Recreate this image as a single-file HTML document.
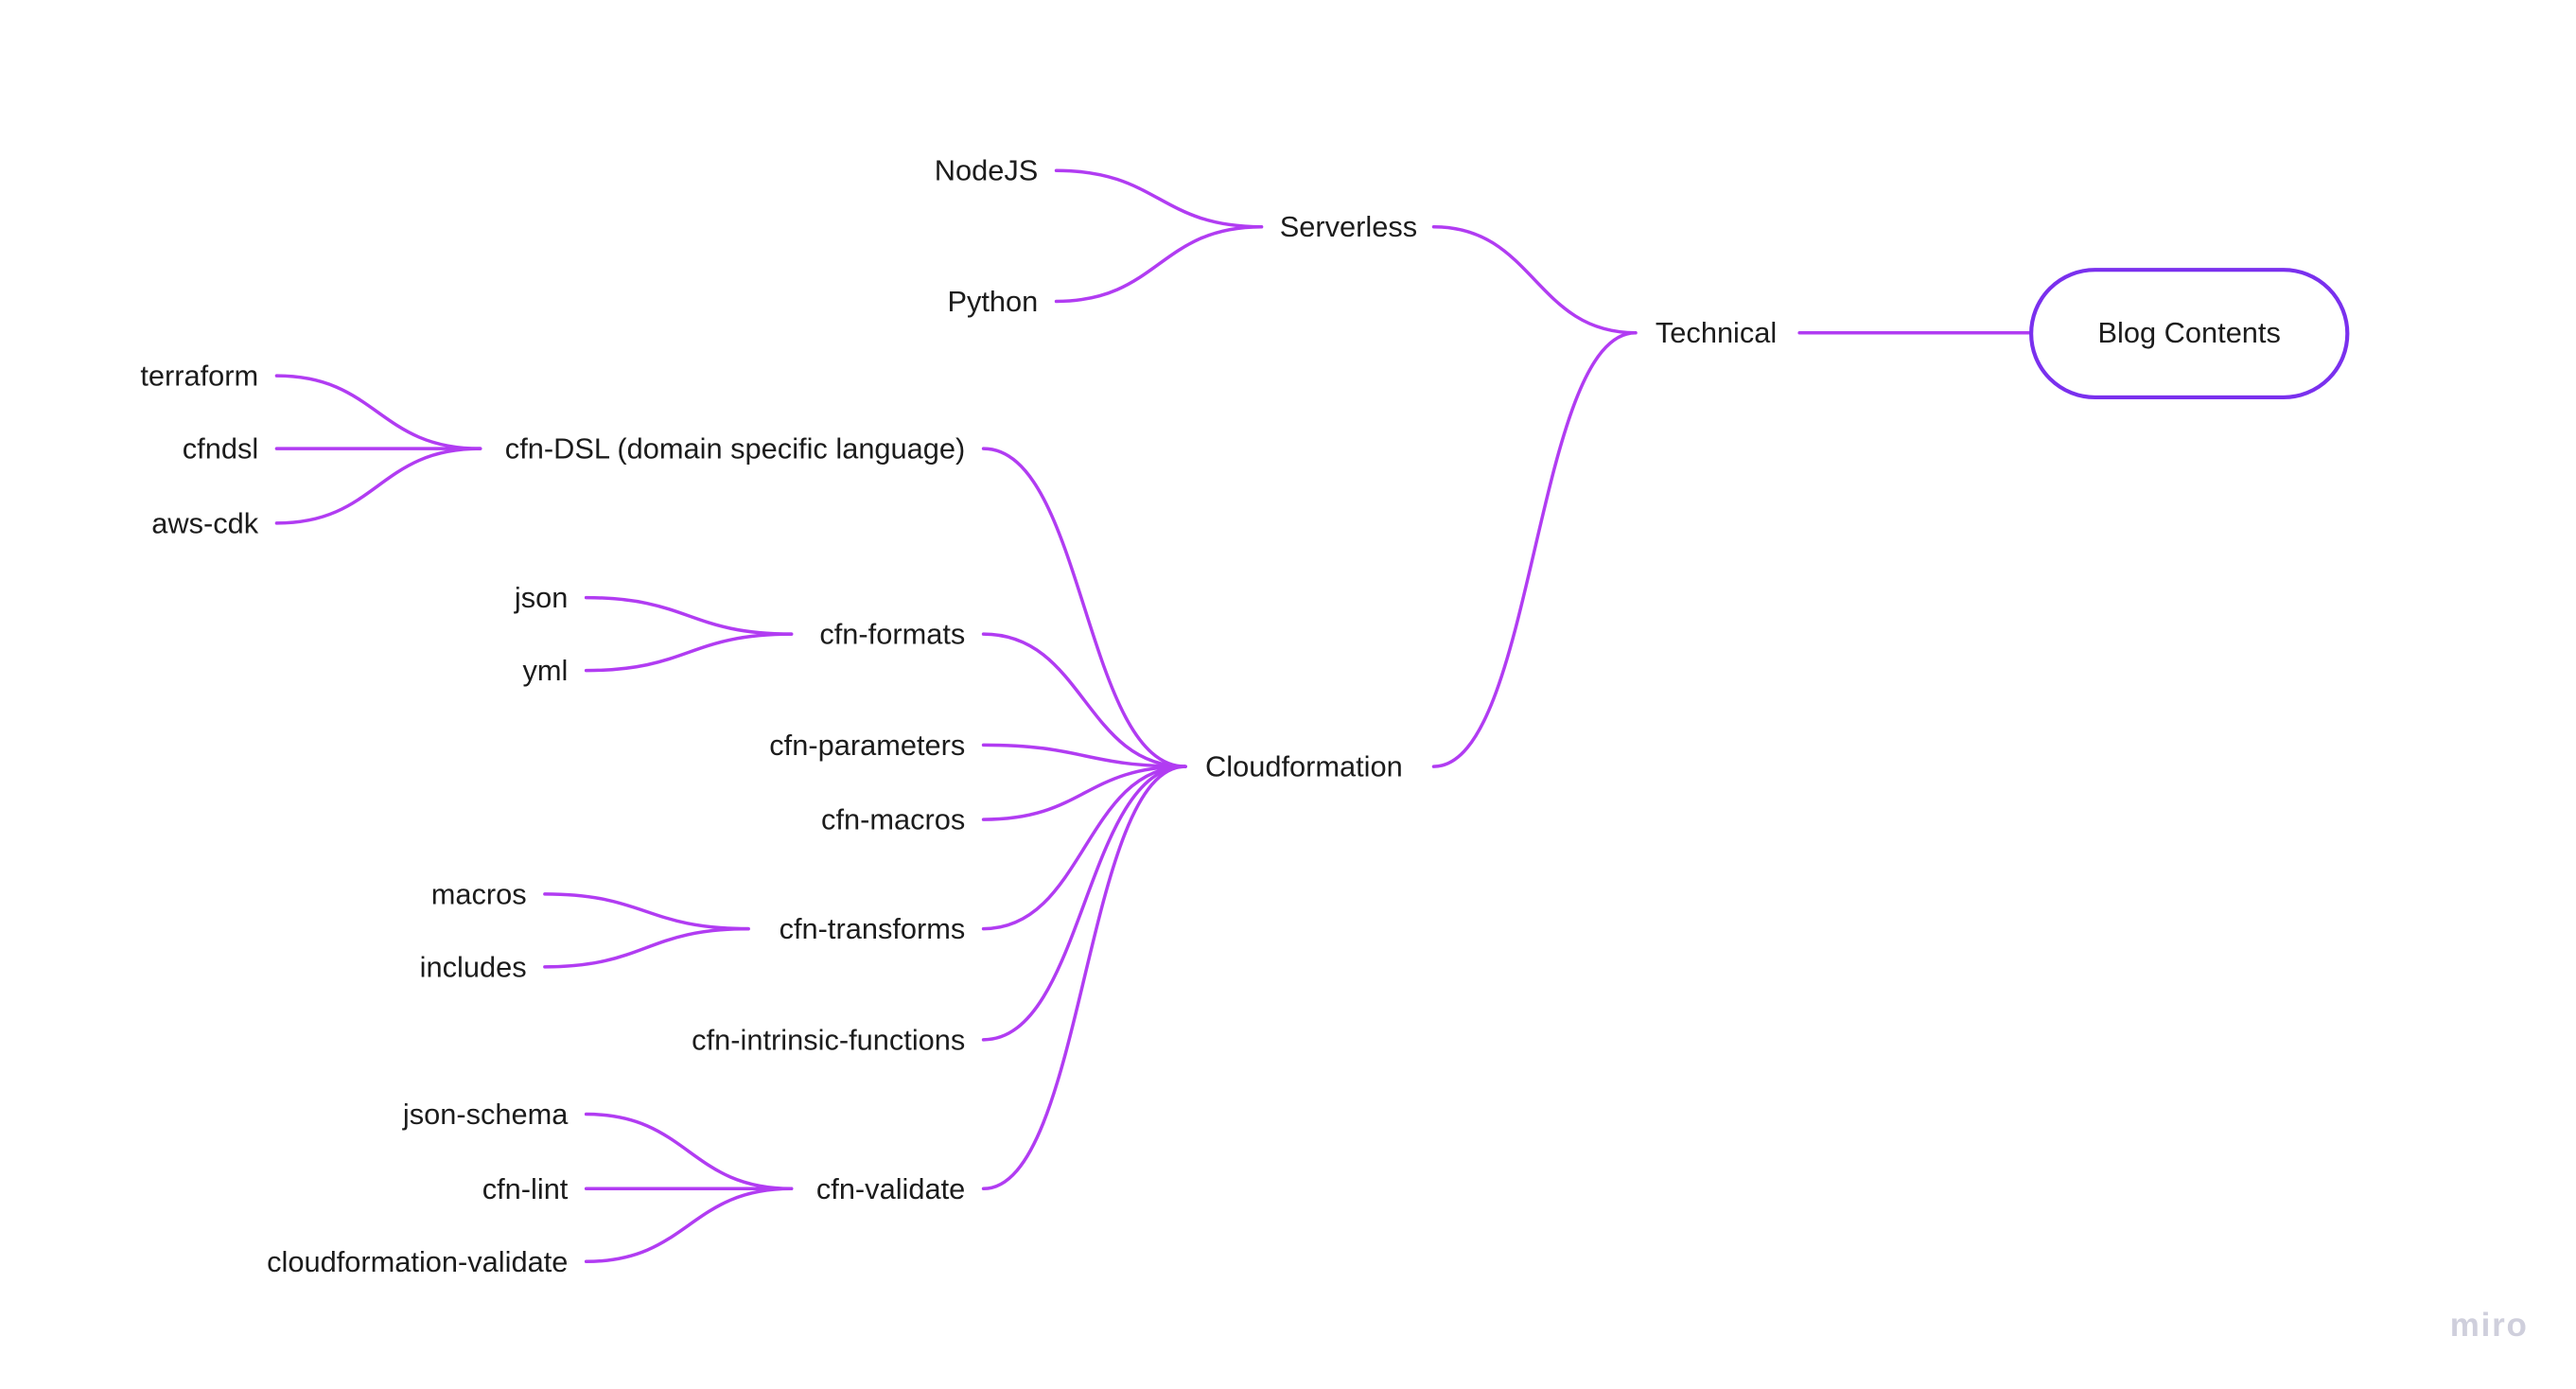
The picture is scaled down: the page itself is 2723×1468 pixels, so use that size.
<!DOCTYPE html>
<html><head><meta charset="utf-8"><style>
html,body{margin:0;padding:0;background:#fff;width:2723px;height:1468px;overflow:hidden}
svg{display:block}
text{font-family:"Liberation Sans",sans-serif;font-size:17.6px;fill:#1c1c1c}
</style></head><body>
<svg width="2723" height="1468" viewBox="0 0 1556 839" xmlns="http://www.w3.org/2000/svg">
<g fill="none" stroke="#b13cf2" stroke-width="2" stroke-linecap="round">
<path d="M1087 201 L1227 201"/>
<path d="M866 137 C927 137 927 201 988 201"/>
<path d="M866 463 C927 463 927 201 988 201"/>
<path d="M638 103 C700 103 700 137 762 137"/>
<path d="M638 182 C700 182 700 137 762 137"/>
<path d="M594 271 C655 271 655 463 716 463"/>
<path d="M594 383 C655 383 655 463 716 463"/>
<path d="M594 450 C655 450 655 463 716 463"/>
<path d="M594 495 C655 495 655 463 716 463"/>
<path d="M594 561 C655 561 655 463 716 463"/>
<path d="M594 628 C655 628 655 463 716 463"/>
<path d="M594 718 C655 718 655 463 716 463"/>
<path d="M167 227 C228 227 228 271 290 271"/>
<path d="M167 271 L290 271"/>
<path d="M167 316 C228 316 228 271 290 271"/>
<path d="M354 361 C416 361 416 383 478 383"/>
<path d="M354 405 C416 405 416 383 478 383"/>
<path d="M329 540 C390 540 390 561 452 561"/>
<path d="M329 584 C390 584 390 561 452 561"/>
<path d="M354 673 C416 673 416 718 478 718"/>
<path d="M354 718 L478 718"/>
<path d="M354 762 C416 762 416 718 478 718"/>
</g>
<rect x="1227" y="163" width="191" height="77" rx="38.5" fill="#fff" stroke="#7a30ee" stroke-width="2.4"/>
<text x="1322.5" y="207" text-anchor="middle">Blog Contents</text>
<text x="1000" y="207">Technical</text>
<text x="773" y="143">Serverless</text>
<text x="728" y="469">Cloudformation</text>
<g text-anchor="end">
<text x="627" y="109">NodeJS</text>
<text x="627" y="188">Python</text>
<text x="583" y="277">cfn-DSL (domain specific language)</text>
<text x="583" y="389">cfn-formats</text>
<text x="583" y="456">cfn-parameters</text>
<text x="583" y="501">cfn-macros</text>
<text x="583" y="567">cfn-transforms</text>
<text x="583" y="634">cfn-intrinsic-functions</text>
<text x="583" y="724">cfn-validate</text>
<text x="156" y="233">terraform</text>
<text x="156" y="277">cfndsl</text>
<text x="156" y="322">aws-cdk</text>
<text x="343" y="367">json</text>
<text x="343" y="411">yml</text>
<text x="318" y="546">macros</text>
<text x="318" y="590">includes</text>
<text x="343" y="679">json-schema</text>
<text x="343" y="724">cfn-lint</text>
<text x="343" y="768">cloudformation-validate</text>
</g>
<text x="1480" y="807" style="font-size:20px;font-weight:bold;fill:#cfcfdc;letter-spacing:1px">miro</text>
</svg>
</body></html>
